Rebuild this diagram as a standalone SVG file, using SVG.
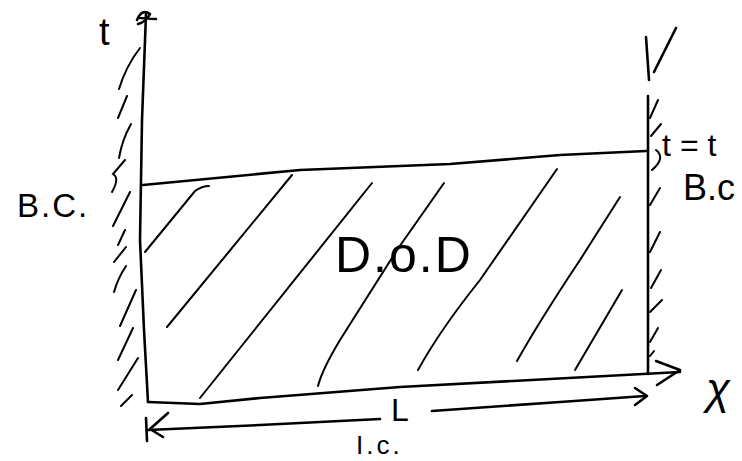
<svg xmlns="http://www.w3.org/2000/svg" width="742" height="461" viewBox="0 0 742 461">
<style>
.ln{fill:none;stroke:#000;stroke-width:2.6;stroke-linecap:round;stroke-linejoin:round}
.ht{fill:none;stroke:#000;stroke-width:2;stroke-linecap:round}
.tx{font-family:"Liberation Sans",Arial,sans-serif;fill:#000}
</style>
<rect width="742" height="461" fill="#fff"/>
<g id="connectors">
<path class="ln" d="M146,14 L142,120 L140,240 L144,330 L148,402"/>
<path class="ln" d="M137,20 Q142,8 150,14 Q146,22 138,24 M140,18 L156,19"/>
<path class="ln" d="M143,185 L300,170 L450,164 L560,155 L646,151"/>
<path class="ln" d="M148,402 L200,404 L260,398 L400,387 L550,379 L680,372"/>
<path class="ln" d="M656,361 L680,370 L657,385"/>
<path class="ln" d="M646,37 L649,80 M654,72 L676,28"/>
<path class="ln" d="M648,96 L648,374"/>
<path class="ln" d="M148,430 L260,425 L380,419 M432,411 L560,402 L645,396"/>
<path class="ln" d="M168,413 L150,429 L163,437 M146,418 L147,441"/>
<path class="ln" d="M635,388 L647,396 L635,405"/>
</g>
<g id="left-wall">
<path class="ht" d="M140,48 Q126,66 119,89 M127,96 L118,118 M131,124 Q122,140 119,158 M125,160 L113,174 Q120,178 112,192 M130,192 L113,226 M125,230 L118,245 M126,247 L114,262 M126,266 Q118,278 114,292 M136,290 L120,326 M133,328 L118,360 M138,358 L118,390 M132,395 L121,406"/>
</g>
<g id="right-wall">
<path class="ht" d="M650,118 L658,100 M651,136 L661,124 M656,150 Q666,158 652,170 M650,205 L660,188 M650,252 L660,232 M651,288 L661,270 M650,312 L662,300 M650,342 L658,328 M650,356 L654,351"/>
</g>
<g id="domain">
<path class="ht" d="M145,252 L195,191 Q202,186 209,186"/>
<path class="ht" d="M167,327 L292,175"/>
<path class="ht" d="M200,398 L372,183"/>
<path class="ht" d="M318,386 Q322,370 340,340 L397,250 L444,183"/>
<path class="ht" d="M418,370 Q440,330 480,280 L557,169"/>
<path class="ht" d="M517,361 Q540,320 580,260 L620,197"/>
<path class="ht" d="M575,370 L622,290"/>
<text class="tx" x="335" y="272" font-size="50" letter-spacing="2">D.o.D</text>
</g>
<g id="labels">
<text class="tx" x="99" y="45" font-size="38">t</text>
<text class="tx" x="17" y="217" font-size="33" letter-spacing="2">B.C.</text>
<text class="tx" x="662" y="156" font-size="32" letter-spacing="9">t=t</text>
<text class="tx" x="683" y="200" font-size="36">B.c</text>
<text class="tx" x="391" y="421" font-size="32">L</text>
<text class="tx" x="356" y="454" font-size="26" letter-spacing="3">I.c.</text>
<text class="tx" x="706" y="404" font-size="44" font-style="italic">χ</text>
</g>
</svg>
